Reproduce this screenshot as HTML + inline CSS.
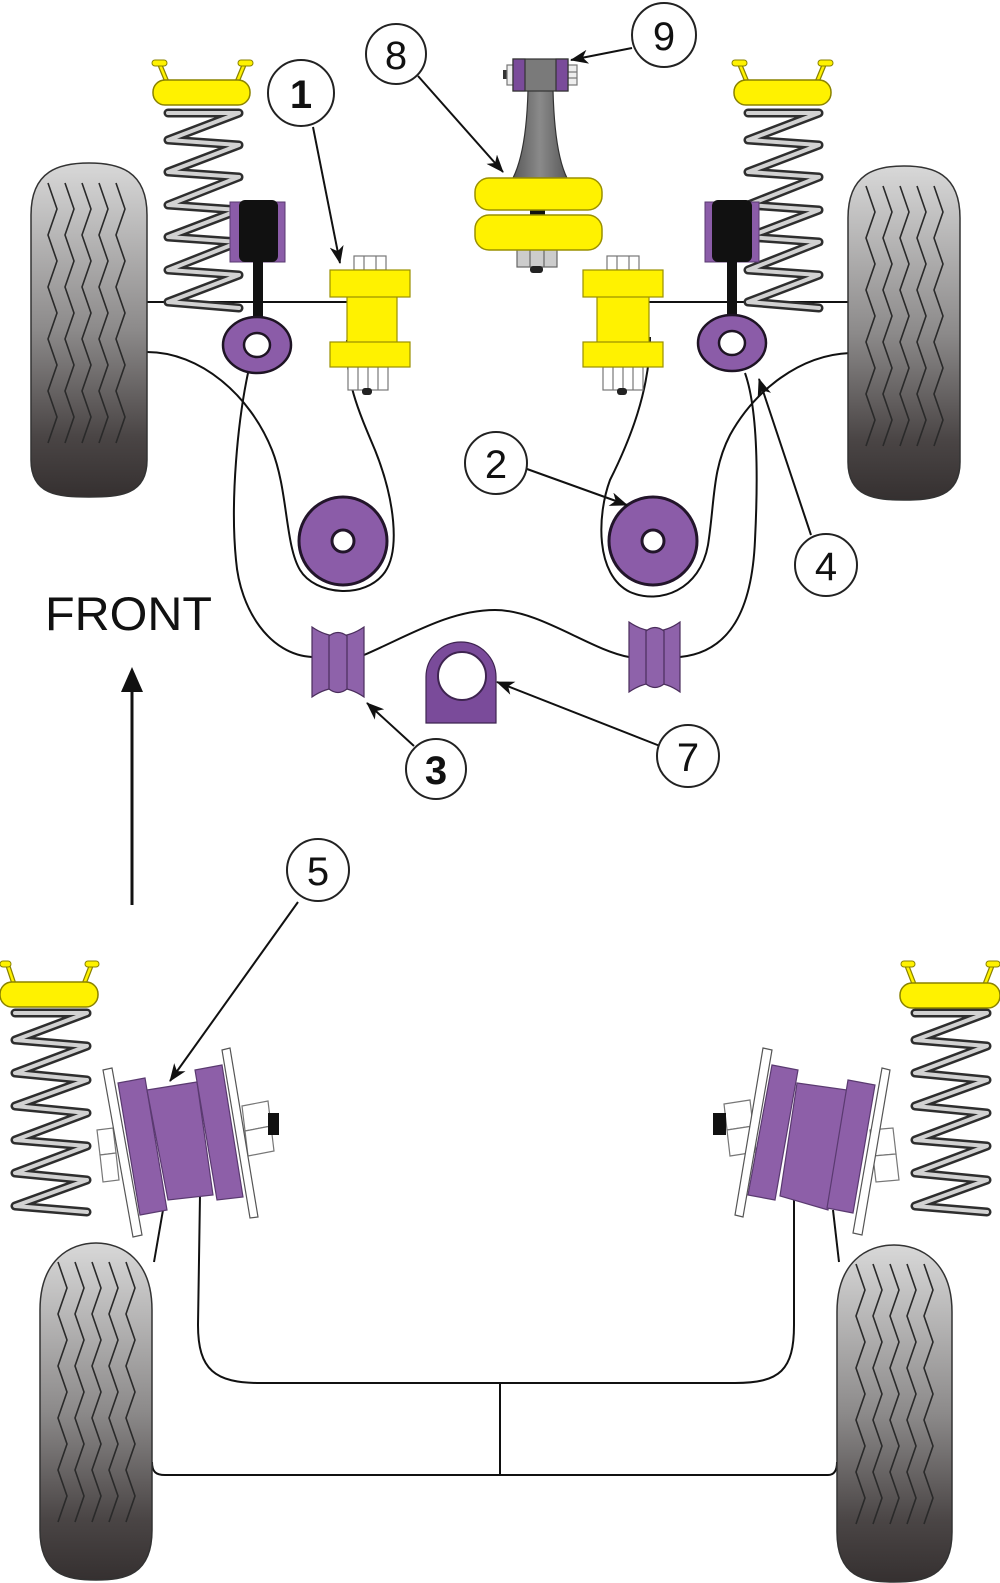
<!DOCTYPE html>
<html>
<head>
<meta charset="utf-8">
<style>
html,body{margin:0;padding:0;background:#fff;}
svg{display:block;}
.num{font-family:"Liberation Sans",sans-serif;font-size:40px;fill:#111;text-anchor:middle;}
</style>
</head>
<body>
<svg width="1000" height="1583" viewBox="0 0 1000 1583" xmlns="http://www.w3.org/2000/svg">
<defs>
  <linearGradient id="tg" x1="0" y1="0" x2="0" y2="1">
    <stop offset="0" stop-color="#d8d8d8"/>
    <stop offset="0.5" stop-color="#8c8a8a"/>
    <stop offset="0.82" stop-color="#4a4545"/>
    <stop offset="1" stop-color="#353030"/>
  </linearGradient>
  <linearGradient id="stem" x1="0" y1="0" x2="1" y2="0">
    <stop offset="0" stop-color="#5a5a5a"/>
    <stop offset="0.5" stop-color="#8a8a8a"/>
    <stop offset="1" stop-color="#5a5a5a"/>
  </linearGradient>
  <marker id="ah" viewBox="0 0 18 14" refX="17" refY="7" markerWidth="18" markerHeight="14" markerUnits="userSpaceOnUse" orient="auto">
    <path d="M0,0 L18,7 L0,14 L5,7 Z" fill="#111"/>
  </marker>
  <g id="tread" fill="none" stroke="#2a2a2a" stroke-width="1.6">
    <polyline points="0,0 9,26 0,52 9,78 0,104 9,130 0,156 9,182 0,208 9,234 0,260"/>
    <polyline points="17,0 26,26 17,52 26,78 17,104 26,130 17,156 26,182 17,208 26,234 17,260"/>
    <polyline points="34,0 43,26 34,52 43,78 34,104 43,130 34,156 43,182 34,208 43,234 34,260"/>
    <polyline points="51,0 60,26 51,52 60,78 51,104 60,130 51,156 60,182 51,208 60,234 51,260"/>
    <polyline points="68,0 77,26 68,52 77,78 68,104 77,130 68,156 77,182 68,208 77,234 68,260"/>
  </g>
</defs>

<rect width="1000" height="1583" fill="#fff"/>

<!-- ================= TOP LINES ================= -->
<g fill="none" stroke="#111" stroke-width="2">
  <line x1="147" y1="302" x2="348" y2="302"/>
  <line x1="648" y1="302" x2="849" y2="302"/>
  <!-- left teardrop from tire -->
  <path d="M147,352 C200,352 250,395 272,450 C288,490 285,545 300,570 C315,595 365,600 385,572 C400,550 395,500 375,450 C358,410 345,380 347,340"/>
  <!-- left outer from eye to bushing 3 -->
  <path d="M248,373 C238,420 230,500 236,560 C240,610 270,655 312,657"/>
  <!-- middle -->
  <path d="M364,655 C410,635 450,610 495,610 C540,610 590,650 629,657"/>
  <!-- right outer -->
  <path d="M745,373 C758,410 758,480 755,540 C752,610 730,652 680,657"/>
  <!-- right teardrop -->
  <path d="M650,337 C650,390 630,440 610,480 C597,515 595,575 630,592 C660,605 700,590 708,545 C715,500 712,470 730,435 C755,390 800,355 850,353"/>
</g>

<!-- ================= TOP TIRES ================= -->
<path d="M31,215 C31,170 60,163 89,163 C118,163 147,170 147,215 L147,460 C147,495 120,497 89,497 C58,497 31,495 31,460 Z" fill="url(#tg)" stroke="#333" stroke-width="1.5"/>
<use href="#tread" transform="translate(48,183)"/>
<path d="M848,218 C848,173 876,166 904,166 C932,166 960,173 960,218 L960,462 C960,497 933,500 904,500 C875,500 848,497 848,462 Z" fill="url(#tg)" stroke="#333" stroke-width="1.5"/>
<use href="#tread" transform="translate(866,186)"/>

<!-- ================= TOP SPRINGS ================= -->
<g fill="none" stroke-linejoin="round" stroke-linecap="round">
  <polyline stroke="#2e2e2e" stroke-width="9" points="168,113 239,113 168,140 239,145 168,172 239,177 168,205 239,210 168,237 239,242 168,270 239,275 168,302 239,308"/>
  <polyline stroke="#d2d2d2" stroke-width="4" points="168,113 239,113 168,140 239,145 168,172 239,177 168,205 239,210 168,237 239,242 168,270 239,275 168,302 239,308"/>
  <polyline stroke="#2e2e2e" stroke-width="9" points="748,113 819,113 748,140 819,145 748,172 819,177 748,205 819,210 748,237 819,242 748,270 819,275 748,302 819,308"/>
  <polyline stroke="#d2d2d2" stroke-width="4" points="748,113 819,113 748,140 819,145 748,172 819,177 748,205 819,210 748,237 819,242 748,270 819,275 748,302 819,308"/>
</g>

<!-- spring mounts top -->
<g stroke-linecap="round">
  <line x1="167" y1="82" x2="160" y2="65" stroke="#8a8200" stroke-width="5"/>
  <line x1="167" y1="82" x2="160" y2="65" stroke="#fff200" stroke-width="2.5"/>
  <line x1="237" y1="82" x2="244" y2="65" stroke="#8a8200" stroke-width="5"/>
  <line x1="237" y1="82" x2="244" y2="65" stroke="#fff200" stroke-width="2.5"/>
  <rect x="152" y="60" width="15" height="6" rx="3" fill="#fff200" stroke="#8a8200" stroke-width="1"/>
  <rect x="238" y="60" width="15" height="6" rx="3" fill="#fff200" stroke="#8a8200" stroke-width="1"/>
  <rect x="153" y="80" width="97" height="25" rx="12" fill="#fff200" stroke="#8a8200" stroke-width="1.5"/>

  <line x1="747" y1="82" x2="740" y2="65" stroke="#8a8200" stroke-width="5"/>
  <line x1="747" y1="82" x2="740" y2="65" stroke="#fff200" stroke-width="2.5"/>
  <line x1="817" y1="82" x2="824" y2="65" stroke="#8a8200" stroke-width="5"/>
  <line x1="817" y1="82" x2="824" y2="65" stroke="#fff200" stroke-width="2.5"/>
  <rect x="732" y="60" width="15" height="6" rx="3" fill="#fff200" stroke="#8a8200" stroke-width="1"/>
  <rect x="818" y="60" width="15" height="6" rx="3" fill="#fff200" stroke="#8a8200" stroke-width="1"/>
  <rect x="734" y="80" width="97" height="25" rx="12" fill="#fff200" stroke="#8a8200" stroke-width="1.5"/>
</g>

<!-- ================= SHOCKS ================= -->
<rect x="230" y="202" width="55" height="60" fill="#8b5ca8" stroke="#5a3a70" stroke-width="1"/>
<rect x="239" y="200" width="39" height="62" rx="6" fill="#111"/>
<rect x="253" y="260" width="10" height="62" fill="#111"/>
<ellipse cx="257" cy="345" rx="34" ry="28" fill="#8b5ca8" stroke="#1e1424" stroke-width="2.5"/>
<ellipse cx="257" cy="345" rx="13" ry="12" fill="#fff" stroke="#1e1424" stroke-width="2.5"/>

<rect x="705" y="202" width="54" height="60" fill="#8b5ca8" stroke="#5a3a70" stroke-width="1"/>
<rect x="712" y="200" width="40" height="62" rx="6" fill="#111"/>
<rect x="727" y="260" width="10" height="62" fill="#111"/>
<ellipse cx="732" cy="343" rx="34" ry="28" fill="#8b5ca8" stroke="#1e1424" stroke-width="2.5"/>
<ellipse cx="732" cy="343" rx="13" ry="12" fill="#fff" stroke="#1e1424" stroke-width="2.5"/>

<!-- ================= BUSHING 1 (yellow) ================= -->
<g stroke-width="1.2">
  <rect x="354" y="256" width="32" height="14" fill="#fff" stroke="#777"/>
  <line x1="364" y1="256" x2="364" y2="270" stroke="#777"/>
  <line x1="376" y1="256" x2="376" y2="270" stroke="#777"/>
  <rect x="348" y="367" width="40" height="23" fill="#fff" stroke="#777"/>
  <line x1="358" y1="367" x2="358" y2="390" stroke="#777"/>
  <line x1="368" y1="367" x2="368" y2="390" stroke="#777"/>
  <line x1="378" y1="367" x2="378" y2="390" stroke="#777"/>
  <rect x="362" y="388" width="10" height="7" rx="3" fill="#222"/>
  <rect x="347" y="296" width="50" height="47" fill="#fff200" stroke="#9a9000"/>
  <rect x="330" y="270" width="80" height="27" fill="#fff200" stroke="#9a9000"/>
  <rect x="330" y="342" width="80" height="25" fill="#fff200" stroke="#9a9000"/>

  <rect x="607" y="256" width="32" height="14" fill="#fff" stroke="#777"/>
  <line x1="617" y1="256" x2="617" y2="270" stroke="#777"/>
  <line x1="629" y1="256" x2="629" y2="270" stroke="#777"/>
  <rect x="603" y="367" width="40" height="23" fill="#fff" stroke="#777"/>
  <line x1="613" y1="367" x2="613" y2="390" stroke="#777"/>
  <line x1="623" y1="367" x2="623" y2="390" stroke="#777"/>
  <line x1="633" y1="367" x2="633" y2="390" stroke="#777"/>
  <rect x="617" y="388" width="10" height="7" rx="3" fill="#222"/>
  <rect x="597" y="296" width="52" height="47" fill="#fff200" stroke="#9a9000"/>
  <rect x="583" y="270" width="80" height="27" fill="#fff200" stroke="#9a9000"/>
  <rect x="583" y="342" width="80" height="25" fill="#fff200" stroke="#9a9000"/>
</g>

<!-- ================= 8 / 9 ASSEMBLY ================= -->
<g stroke-width="1.2">
  <rect x="503" y="70" width="5" height="9" fill="#333"/>
  <rect x="507" y="65" width="7" height="20" fill="#eee" stroke="#777"/>
  <rect x="567" y="65" width="10" height="20" fill="#eee" stroke="#777"/>
  <line x1="567" y1="72" x2="577" y2="72" stroke="#777"/>
  <line x1="567" y1="78" x2="577" y2="78" stroke="#777"/>
  <path d="M528,90 L553,90 C554,130 558,160 567,178 L513,178 C522,160 527,130 528,90 Z" fill="url(#stem)" stroke="#333"/>
  <rect x="513" y="59" width="55" height="32" fill="#7a7a7a" stroke="#333"/>
  <rect x="513" y="59" width="12" height="32" fill="#7a4b9a" stroke="#333"/>
  <rect x="556" y="59" width="12" height="32" fill="#7a4b9a" stroke="#333"/>
  <rect x="517" y="249" width="40" height="18" fill="#ccc" stroke="#666"/>
  <line x1="530" y1="249" x2="530" y2="267" stroke="#666"/>
  <line x1="544" y1="249" x2="544" y2="267" stroke="#666"/>
  <rect x="530" y="266" width="13" height="7" rx="3" fill="#222"/>
  <rect x="530" y="208" width="15" height="9" fill="#111"/>
  <rect x="475" y="178" width="127" height="32" rx="14" fill="#fff200" stroke="#9a9000" stroke-width="1.5"/>
  <rect x="475" y="215" width="127" height="35" rx="14" fill="#fff200" stroke="#9a9000" stroke-width="1.5"/>
</g>

<!-- ================= BUSHING 2 ================= -->
<circle cx="343" cy="541" r="44" fill="#8b5ca8" stroke="#22152a" stroke-width="3"/>
<circle cx="343" cy="541" r="11" fill="#fff" stroke="#22152a" stroke-width="3"/>
<circle cx="653" cy="541" r="44" fill="#8b5ca8" stroke="#22152a" stroke-width="3"/>
<circle cx="653" cy="541" r="11" fill="#fff" stroke="#22152a" stroke-width="3"/>

<!-- ================= BUSHING 3 ================= -->
<g fill="#8e62aa" stroke="#4a2d5c" stroke-width="1.2">
  <path d="M312,627 Q338,645 364,627 L364,697 Q338,679 312,697 Z"/>
  <path d="M329,636 Q338,629 347,636 L347,689 Q338,696 329,689 Z" fill="#8e62aa"/>
  <path d="M629,622 Q655,640 680,622 L680,692 Q655,674 629,692 Z"/>
  <path d="M646,631 Q655,624 664,631 L664,684 Q655,691 646,684 Z"/>
</g>

<!-- ================= BUSHING 7 ================= -->
<path d="M426,723 L426,677 A35,35 0 0 1 496,677 L496,723 Z" fill="#7a4b9a" stroke="#3e2450" stroke-width="1.2"/>
<circle cx="462" cy="676" r="24" fill="#fff" stroke="#3e2450" stroke-width="2"/>

<!-- ================= FRONT ================= -->
<text x="45" y="630" font-family="Liberation Sans, sans-serif" font-size="47" fill="#111" textLength="167" lengthAdjust="spacingAndGlyphs">FRONT</text>
<line x1="132" y1="688" x2="132" y2="905" stroke="#111" stroke-width="3"/>
<path d="M132,667 L121,692 L143,692 Z" fill="#111"/>

<!-- ================= BOTTOM LINES ================= -->
<g fill="none" stroke="#111" stroke-width="2">
  <path d="M163,1210 L154,1262"/>
  <path d="M200,1195 L198,1325 C198,1370 215,1383 260,1383 L735,1383 C780,1383 794,1370 794,1325 L794,1197"/>
  <line x1="500" y1="1383" x2="500" y2="1475"/>
  <path d="M152,1462 C152,1472 156,1475 165,1475 L828,1475 C834,1475 837,1471 837,1462"/>
  <path d="M833,1210 L839,1262"/>
</g>

<!-- ================= BOTTOM TIRES ================= -->
<path d="M40,1310 C40,1260 70,1243 96,1243 C122,1243 152,1260 152,1310 L152,1530 C152,1575 125,1580 96,1580 C67,1580 40,1575 40,1530 Z" fill="url(#tg)" stroke="#333" stroke-width="1.5"/>
<use href="#tread" transform="translate(58,1262)"/>
<path d="M837,1312 C837,1262 867,1245 894,1245 C921,1245 952,1262 952,1312 L952,1532 C952,1577 924,1582 894,1582 C864,1582 837,1577 837,1532 Z" fill="url(#tg)" stroke="#333" stroke-width="1.5"/>
<use href="#tread" transform="translate(856,1264)"/>

<!-- ================= BOTTOM SPRINGS ================= -->
<g fill="none" stroke-linejoin="round" stroke-linecap="round">
  <polyline stroke="#2e2e2e" stroke-width="9" points="15,1013 87,1013 15,1040 87,1046 15,1073 87,1080 15,1106 87,1113 15,1140 87,1146 15,1173 87,1180 15,1206 87,1212"/>
  <polyline stroke="#d2d2d2" stroke-width="4" points="15,1013 87,1013 15,1040 87,1046 15,1073 87,1080 15,1106 87,1113 15,1140 87,1146 15,1173 87,1180 15,1206 87,1212"/>
  <polyline stroke="#2e2e2e" stroke-width="9" points="915,1013 987,1013 915,1040 987,1046 915,1073 987,1080 915,1106 987,1113 915,1140 987,1146 915,1173 987,1180 915,1206 987,1212"/>
  <polyline stroke="#d2d2d2" stroke-width="4" points="915,1013 987,1013 915,1040 987,1046 915,1073 987,1080 915,1106 987,1113 915,1140 987,1146 915,1173 987,1180 915,1206 987,1212"/>
</g>
<g stroke-linecap="round">
  <line x1="14" y1="984" x2="8" y2="966" stroke="#8a8200" stroke-width="5"/>
  <line x1="14" y1="984" x2="8" y2="966" stroke="#fff200" stroke-width="2.5"/>
  <line x1="84" y1="984" x2="91" y2="966" stroke="#8a8200" stroke-width="5"/>
  <line x1="84" y1="984" x2="91" y2="966" stroke="#fff200" stroke-width="2.5"/>
  <rect x="0" y="961" width="11" height="6" rx="3" fill="#fff200" stroke="#8a8200" stroke-width="1"/>
  <rect x="85" y="961" width="14" height="6" rx="3" fill="#fff200" stroke="#8a8200" stroke-width="1"/>
  <rect x="0" y="982" width="98" height="25" rx="12" fill="#fff200" stroke="#8a8200" stroke-width="1.5"/>

  <line x1="914" y1="984" x2="907" y2="966" stroke="#8a8200" stroke-width="5"/>
  <line x1="914" y1="984" x2="907" y2="966" stroke="#fff200" stroke-width="2.5"/>
  <line x1="985" y1="984" x2="992" y2="966" stroke="#8a8200" stroke-width="5"/>
  <line x1="985" y1="984" x2="992" y2="966" stroke="#fff200" stroke-width="2.5"/>
  <rect x="901" y="961" width="14" height="6" rx="3" fill="#fff200" stroke="#8a8200" stroke-width="1"/>
  <rect x="986" y="961" width="14" height="6" rx="3" fill="#fff200" stroke="#8a8200" stroke-width="1"/>
  <rect x="900" y="983" width="100" height="25" rx="12" fill="#fff200" stroke="#8a8200" stroke-width="1.5"/>
</g>

<!-- ================= BUSHING 5 LEFT ================= -->
<g stroke-width="1.2">
  <polygon points="97,1130 113,1128 116,1153 100,1155" fill="#fff" stroke="#777"/>
  <polygon points="100,1155 116,1153 119,1180 103,1182" fill="#fff" stroke="#777"/>
  <polygon points="242,1106 268,1101 271,1126 245,1131" fill="#fff" stroke="#777"/>
  <polygon points="245,1131 271,1126 274,1151 248,1156" fill="#fff" stroke="#777"/>
  <rect x="268" y="1113" width="11" height="22" fill="#111"/>
  <polygon points="118,1083 145,1078 167,1210 140,1215" fill="#8d5fa8" stroke="#5a3a70"/>
  <polygon points="147,1090 197,1082 213,1195 168,1200" fill="#8d5fa8" stroke="#5a3a70"/>
  <polygon points="195,1070 222,1065 243,1197 217,1200" fill="#8d5fa8" stroke="#5a3a70"/>
  <polygon points="103,1070 112,1068 142,1235 133,1237" fill="#fff" stroke="#555"/>
  <polygon points="222,1050 230,1048 258,1217 250,1218" fill="#fff" stroke="#555"/>
</g>

<!-- ================= BUSHING 5 RIGHT ================= -->
<g stroke-width="1.2">
  <polygon points="724,1104 750,1100 753,1126 727,1130" fill="#fff" stroke="#777"/>
  <polygon points="727,1130 753,1126 756,1152 730,1156" fill="#fff" stroke="#777"/>
  <rect x="713" y="1113" width="13" height="22" fill="#111"/>
  <polygon points="870,1130 893,1128 896,1154 873,1156" fill="#fff" stroke="#777"/>
  <polygon points="873,1156 896,1154 899,1180 876,1182" fill="#fff" stroke="#777"/>
  <polygon points="772,1065 798,1070 775,1200 748,1195" fill="#8d5fa8" stroke="#5a3a70"/>
  <polygon points="797,1083 847,1090 828,1210 780,1196" fill="#8d5fa8" stroke="#5a3a70"/>
  <polygon points="848,1080 875,1085 853,1213 827,1208" fill="#8d5fa8" stroke="#5a3a70"/>
  <polygon points="763,1048 772,1050 743,1217 735,1215" fill="#fff" stroke="#555"/>
  <polygon points="882,1068 890,1070 862,1235 853,1233" fill="#fff" stroke="#555"/>
</g>

<!-- ================= ARROWS ================= -->
<g stroke="#111" stroke-width="2" fill="none" marker-end="url(#ah)">
  <line x1="313" y1="127" x2="340" y2="263"/>
  <line x1="418" y1="76" x2="503" y2="172"/>
  <line x1="632" y1="48" x2="571" y2="60"/>
  <line x1="527" y1="469" x2="627" y2="505"/>
  <line x1="811" y1="535" x2="759" y2="379"/>
  <line x1="414" y1="746" x2="367" y2="703"/>
  <line x1="660" y1="746" x2="497" y2="682"/>
  <line x1="298" y1="902" x2="170" y2="1081"/>
</g>

<!-- ================= LABEL CIRCLES ================= -->
<g fill="#fff" stroke="#222" stroke-width="2">
  <circle cx="301" cy="93" r="33"/>
  <circle cx="396" cy="54" r="30"/>
  <circle cx="664" cy="35" r="32"/>
  <circle cx="496" cy="463" r="31"/>
  <circle cx="826" cy="565" r="31"/>
  <circle cx="436" cy="769" r="30"/>
  <circle cx="688" cy="756" r="31"/>
  <circle cx="318" cy="870" r="31"/>
</g>
<text class="num" x="301" y="108" font-weight="bold">1</text>
<text class="num" x="396" y="69">8</text>
<text class="num" x="664" y="50">9</text>
<text class="num" x="496" y="478">2</text>
<text class="num" x="826" y="580">4</text>
<text class="num" x="436" y="784" font-weight="bold">3</text>
<text class="num" x="688" y="771">7</text>
<text class="num" x="318" y="885">5</text>
</svg>
</body>
</html>
